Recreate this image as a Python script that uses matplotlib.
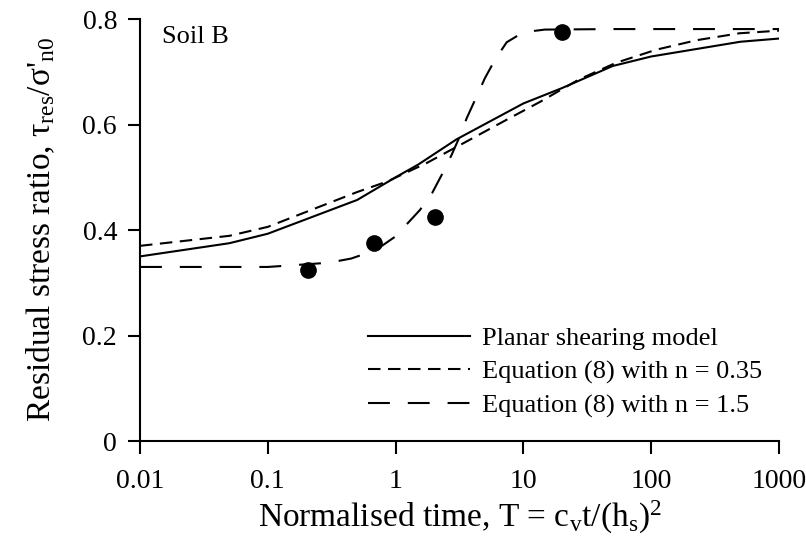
import matplotlib
matplotlib.use("Agg")
import matplotlib.pyplot as plt

plt.rcParams['font.family'] = ['Liberation Serif', 'DejaVu Serif']
plt.rcParams['mathtext.fontset'] = 'custom'
plt.rcParams['mathtext.rm'] = 'Liberation Serif'
plt.rcParams['mathtext.it'] = 'Liberation Serif'

# Planar shearing model
T_planar = [0.01, 0.05, 0.1, 0.5, 1, 1.5, 3, 10, 20, 50, 100, 500, 1000]
y_planar = [0.350, 0.375, 0.393, 0.457, 0.500, 0.524, 0.572, 0.640, 0.669, 0.711, 0.729, 0.757, 0.763]

# Equation (8) with n = 0.35
T_n035 = [0.01, 0.05, 0.1, 0.5, 0.86, 1.75, 3.6, 7.0, 13.5, 27, 53, 110, 228, 490, 1000]
y_n035 = [0.370, 0.389, 0.406, 0.472, 0.492, 0.527, 0.568, 0.606, 0.643, 0.685, 0.717, 0.742, 0.760, 0.773, 0.778]

# Equation (8) with n = 1.5
T_n15 = [0.01, 0.1, 0.3, 0.45, 0.7, 1.0, 1.15, 1.55, 1.93, 2.3, 2.75, 3.17, 3.6, 4.3, 5.0, 6.0, 7.4, 10, 14.7, 50, 1000]
y_n15 = [0.330, 0.330, 0.338, 0.346, 0.362, 0.388, 0.404, 0.438, 0.470, 0.505, 0.543, 0.577, 0.612, 0.653, 0.688, 0.723, 0.756, 0.775, 0.780, 0.781, 0.781]

# Measured data points
T_data = [0.205, 0.68, 2.03, 20]
y_data = [0.325, 0.375, 0.424, 0.775]

x_ticks = [0.01, 0.1, 1, 10, 100, 1000]
x_ticklabels = ['0.01', '0.1', '1', '10', '100', '1000']
y_ticks = [0, 0.2, 0.4, 0.6, 0.8]
y_ticklabels = ['0', '0.2', '0.4', '0.6', '0.8']

fig = plt.figure(figsize=(8.06, 5.44), dpi=100)
ax = fig.add_axes([0.1737, 0.1893, 0.7928, 0.7757])

ax.plot(T_planar, y_planar, color='black', lw=1.5, ls='-', label='Planar shearing model')
ax.plot(T_n035, y_n035, color='black', lw=1.5, ls=(0, (6.0, 3.6)), label='Equation (8) with n = 0.35')
ax.plot(T_n15, y_n15, color='black', lw=1.5, ls=(0, (10.5, 8.6)), label='Equation (8) with n = 1.5')
ax.plot(T_data, y_data, 'o', color='black', ms=11, zorder=5)

ax.set_xscale('log')
ax.set_xlim(0.01, 1000)
ax.set_ylim(0, 0.8)
ax.set_xticks(x_ticks)
ax.set_xticklabels(x_ticklabels)
ax.minorticks_off()
ax.set_yticks(y_ticks)
ax.set_yticklabels(y_ticklabels)

for s in ['top', 'right']:
    ax.spines[s].set_visible(False)
for s in ['left', 'bottom']:
    ax.spines[s].set_linewidth(1.5)
ax.tick_params(direction='out', length=9, width=1.5, labelsize=20)
ax.tick_params(axis='x', pad=11)
ax.tick_params(axis='y', pad=7.5)

ax.set_xlabel(r'Normalised time, T = c$_{\rm v}$t/(h$_{\rm s}$)$^{\rm 2}$', fontsize=24, labelpad=4)
ax.set_ylabel(r"Residual stress ratio, $\tau_{\rm res}$/$\sigma$'$_{\rm n0}$", fontsize=24, labelpad=18)

ax.text(0.034, 0.943, 'Soil B', transform=ax.transAxes, fontsize=19, va='baseline', ha='left')

leg = ax.legend(loc='center left', bbox_to_anchor=(0.357, 0.1635), frameon=False, fontsize=19,
                handlelength=3.86, handletextpad=0.45, labelspacing=0.38, borderpad=0, borderaxespad=0)

fig.savefig('out.png', dpi=100)
